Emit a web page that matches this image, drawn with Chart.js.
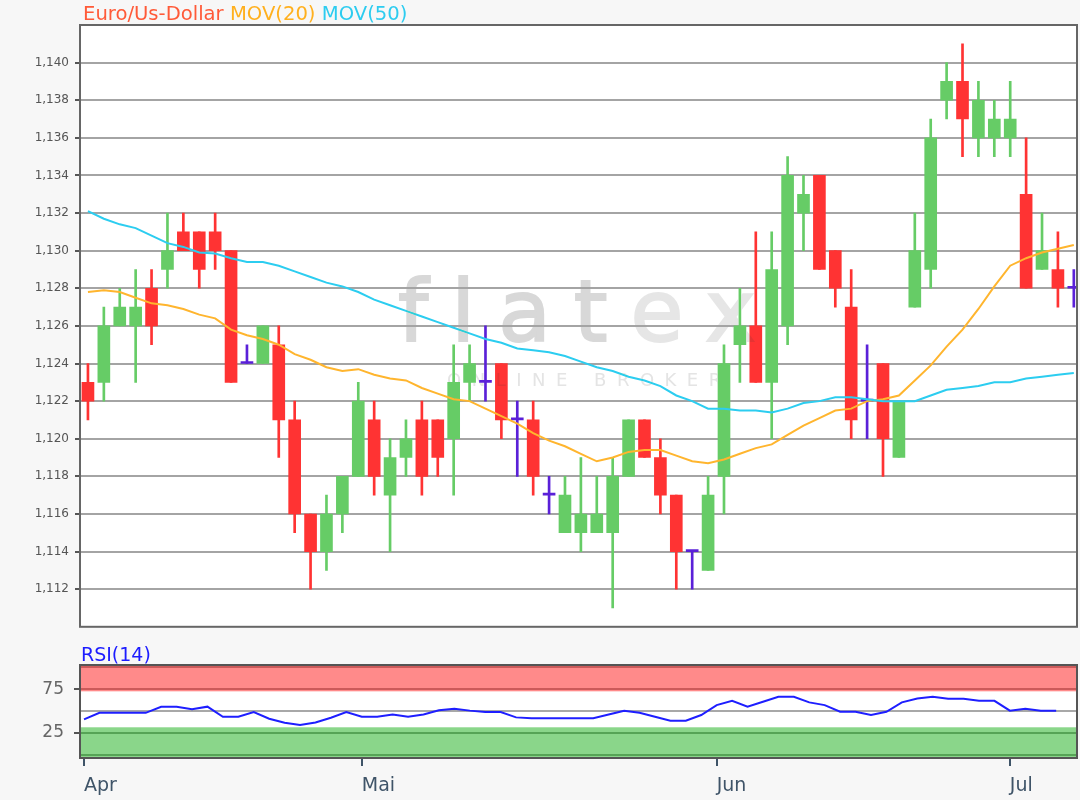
<!DOCTYPE html>
<html>
<head>
<meta charset="utf-8">
<script src="https://cdn.jsdelivr.net/npm/chart.js@4.4.1/dist/chart.umd.min.js"></script>
<style>
  html, body { margin:0; padding:0; width:1080px; height:800px; overflow:hidden; background:#f7f7f7; font-family:"DejaVu Sans", sans-serif; }
  .box { position:absolute; left:0; width:1080px; }
  .t { position:absolute; white-space:nowrap; line-height:1; }
  #wm1, #wm2 { mix-blend-mode:darken; pointer-events:none; }
</style>
</head>
<body>
<div class="box" style="top:0;height:640px"><canvas id="priceChart"></canvas></div>
<div class="box" style="top:640px;height:160px"><canvas id="rsiChart"></canvas></div>

<div class="t" style="left:83px;top:4px;font-size:19.6px">
  <span style="color:#ff5a38">Euro/Us-Dollar</span> <span style="color:#ffb01e">MOV(20)</span> <span style="color:#2cccf0">MOV(50)</span>
</div>
<div class="t" style="left:81px;top:645px;font-size:19px;color:#1c1cff">RSI(14)</div>
<div class="t" id="wm1" style="left:398px;top:268px;font-size:86px;letter-spacing:23px;-webkit-text-stroke:2px currentColor"><span style="color:#d8d8d8">flat</span><span style="color:#e6e6e6">ex</span></div>
<div class="t" id="wm2" style="left:447px;top:371px;font-size:18px;letter-spacing:10.5px;color:#e4e4e4">ONLINE BROKER</div>

<script>
// ---------- data ----------
const CANDLE_OPEN  = [1.123,1.123,1.126,1.126,1.128,1.129,1.131,1.131,1.131,1.130,1.124,1.124,1.125,1.121,1.116,1.114,1.116,1.118,1.121,1.117,1.119,1.121,1.121,1.120,1.123,1.123,1.124,1.121,1.121,1.117,1.115,1.115,1.115,1.115,1.118,1.121,1.119,1.117,1.114,1.113,1.118,1.125,1.126,1.123,1.126,1.132,1.134,1.130,1.127,1.122,1.124,1.119,1.127,1.129,1.138,1.139,1.136,1.136,1.136,1.133,1.129,1.129,1.128];
const CANDLE_HIGH  = [1.124,1.127,1.128,1.129,1.129,1.132,1.132,1.131,1.132,1.130,1.125,1.126,1.126,1.122,1.116,1.117,1.118,1.123,1.122,1.120,1.121,1.122,1.121,1.125,1.125,1.126,1.124,1.122,1.122,1.118,1.118,1.119,1.118,1.119,1.121,1.121,1.120,1.117,1.114,1.118,1.125,1.128,1.131,1.131,1.135,1.134,1.134,1.130,1.129,1.125,1.124,1.122,1.132,1.137,1.140,1.141,1.139,1.138,1.139,1.136,1.132,1.131,1.129];
const CANDLE_LOW   = [1.121,1.122,1.126,1.123,1.125,1.128,1.130,1.128,1.129,1.123,1.124,1.124,1.119,1.115,1.112,1.113,1.115,1.118,1.117,1.114,1.118,1.117,1.118,1.117,1.122,1.122,1.120,1.118,1.117,1.116,1.115,1.114,1.115,1.111,1.118,1.119,1.116,1.112,1.112,1.113,1.116,1.123,1.123,1.120,1.125,1.130,1.129,1.127,1.120,1.120,1.118,1.119,1.127,1.128,1.137,1.135,1.135,1.135,1.135,1.128,1.129,1.127,1.127];
const CANDLE_CLOSE = [1.122,1.126,1.127,1.127,1.126,1.130,1.130,1.129,1.130,1.123,1.124,1.126,1.121,1.116,1.114,1.116,1.118,1.122,1.118,1.119,1.120,1.118,1.119,1.123,1.124,1.123,1.121,1.121,1.118,1.117,1.117,1.116,1.116,1.118,1.121,1.119,1.117,1.114,1.114,1.117,1.124,1.126,1.123,1.129,1.134,1.133,1.129,1.128,1.121,1.122,1.120,1.122,1.130,1.136,1.139,1.137,1.138,1.137,1.137,1.128,1.130,1.128,1.128];

const MOV20 = [1.1278,1.1279,1.1278,1.1275,1.1272,1.1271,1.1269,1.1266,1.1264,1.1258,1.1255,1.1253,1.1250,1.1245,1.1242,1.1238,1.1236,1.1237,1.1234,1.1232,1.1231,1.1227,1.1224,1.1221,1.1220,1.1216,1.1212,1.1208,1.1203,1.1199,1.1196,1.1192,1.1188,1.1190,1.1193,1.1194,1.1194,1.1191,1.1188,1.1187,1.1189,1.1192,1.1195,1.1197,1.1202,1.1207,1.1211,1.1215,1.1216,1.1220,1.1221,1.1223,1.1231,1.1239,1.1249,1.1258,1.1269,1.1281,1.1292,1.1296,1.1299,1.1301,1.1303];
const MOV50 = [1.1321,1.1317,1.1314,1.1312,1.1308,1.1304,1.1302,1.1299,1.12985,1.1296,1.1294,1.1294,1.1292,1.1289,1.1286,1.1283,1.1281,1.1278,1.1274,1.1271,1.1268,1.1265,1.1262,1.1259,1.1256,1.1253,1.1251,1.1248,1.1247,1.1246,1.1244,1.1241,1.1238,1.1236,1.1233,1.1231,1.1228,1.1223,1.1220,1.1216,1.1216,1.1215,1.1215,1.1214,1.1216,1.1219,1.1220,1.1222,1.1222,1.1221,1.1220,1.1220,1.1220,1.1223,1.1226,1.1227,1.1228,1.1230,1.1230,1.1232,1.1233,1.1234,1.1235];

const RSI14 = [40.6,48,48,48,48,54.9,54.9,52,55,43.5,43.5,48.9,41.3,36.7,34,37,42.4,48.9,43.5,43.5,46.2,43.5,46.2,50.8,52.6,50.5,48.9,48.9,42.8,41.7,41.7,41.7,41.7,41.7,46,50.4,48,43.5,39,39,45.5,56.8,61.7,54.9,60.6,66.3,66.3,59.9,56.8,49.2,49.2,45.5,49.2,59.9,64.4,66.3,64,64,61.7,61.7,50.4,52.6,50.4,50.4];

const PRICE_TICKS  = [1.112,1.114,1.116,1.118,1.120,1.122,1.124,1.126,1.128,1.130,1.132,1.134,1.136,1.138,1.140];
const RSI_GRID     = [0,25,50,75,100];
const RSI_LABELED  = [25,75];
const MONTH_TICKS  = [0,18,41,60];
const MONTH_LABELS = ['Apr','Mai','Jun','Jul'];
const RSI_BAND_HIGH = 72.5;
const RSI_BAND_LOW  = 31.5;

// ---------- styles ----------
const GREEN = '#66cc66', RED = '#ff3333', DOJI = '#5a20d8';
const ORANGE = '#ffb52e', CYAN = '#2ccdf0';

Chart.defaults.font.family = '"DejaVu Sans", sans-serif';
Chart.defaults.animation = false;
Chart.defaults.plugins.legend.display = false;
Chart.defaults.plugins.tooltip.enabled = false;

const frame = (border) => ({
  id: 'frame',
  beforeDraw(chart) {
    const a = chart.chartArea, ctx = chart.ctx;
    ctx.save();
    ctx.fillStyle = '#ffffff';
    ctx.fillRect(a.left, a.top, a.right - a.left, a.bottom - a.top);
    if (chart.options.rsiBands) {
      const y = chart.scales.y;
      const yHigh = y.getPixelForValue(RSI_BAND_HIGH);
      const yLow = y.getPixelForValue(RSI_BAND_LOW);
      ctx.fillStyle = '#ff8a8a';
      ctx.fillRect(a.left, a.top, a.right - a.left, yHigh - a.top);
      ctx.fillStyle = '#8ad68a';
      ctx.fillRect(a.left, yLow, a.right - a.left, a.bottom - yLow);
    }
    ctx.restore();
  },
  afterDraw(chart) {
    const a = chart.chartArea, ctx = chart.ctx;
    ctx.save();
    ctx.strokeStyle = border;
    ctx.lineWidth = 2;
    ctx.strokeRect(a.left, a.top, a.right - a.left, a.bottom - a.top);
    ctx.restore();
  }
});

const idx = CANDLE_OPEN.map((_, i) => i);
const candleColor = idx.map(i => CANDLE_CLOSE[i] > CANDLE_OPEN[i] ? GREEN : (CANDLE_CLOSE[i] < CANDLE_OPEN[i] ? RED : DOJI));
const priceLabel = v => v.toFixed(3).replace('.', ',');

new Chart(document.getElementById('priceChart'), {
  type: 'bar',
  data: {
    datasets: [
      { type:'line', label:'MOV(50)', data: idx.map(i => ({x:i, y:MOV50[i]})), borderColor:CYAN, borderWidth:2, pointRadius:0, order:0 },
      { type:'line', label:'MOV(20)', data: idx.map(i => ({x:i, y:MOV20[i]})), borderColor:ORANGE, borderWidth:2, pointRadius:0, order:1 },
      { type:'bar', label:'body', data: idx.map(i => ({x:i, y:[CANDLE_OPEN[i], CANDLE_CLOSE[i]]})), backgroundColor:candleColor, barThickness:12, minBarLength:2, grouped:false, order:2 },
      { type:'bar', label:'wick', data: idx.map(i => ({x:i, y:[CANDLE_LOW[i], CANDLE_HIGH[i]]})), backgroundColor:candleColor, barThickness:2, grouped:false, order:3 }
    ]
  },
  options: {
    responsive: true,
    maintainAspectRatio: false,
    layout: { padding: { left:0, right:3, top:25, bottom:4 } },
    scales: {
      x: { type:'linear', min:-0.5, max:62.2, offset:false, display:false, grid:{ offset:false } },
      y: {
        min: 1.110, max: 1.142,
        afterBuildTicks: s => { s.ticks = PRICE_TICKS.map(v => ({value:v})); },
        afterFit: s => { s.width = 80; },
        border: { display:false },
        grid: { color:'#a4a4a4', lineWidth:2, tickLength:5, tickColor:'#555555' },
        ticks: { callback: v => priceLabel(v), color:'#555555', font:{ size:12 }, padding:6, autoSkip:false }
      }
    }
  },
  plugins: [frame('#666666')]
});

new Chart(document.getElementById('rsiChart'), {
  type: 'line',
  data: {
    datasets: [
      { label:'RSI(14)', data: RSI14.map((v, i) => ({x:i, y:v})), borderColor:'#1e1eff', borderWidth:2, pointRadius:0 }
    ]
  },
  options: {
    responsive: true,
    maintainAspectRatio: false,
    rsiBands: true,
    layout: { padding: { left:0, right:3, top:25, bottom:0 } },
    scales: {
      x: {
        type:'linear', min:-0.26, max:64.35, offset:false,
        afterBuildTicks: s => { s.ticks = MONTH_TICKS.map(v => ({value:v})); },
        afterFit: s => { s.height = 42; },
        border: { display:false },
        grid: { drawOnChartArea:false, tickLength:8, tickColor:'#3f5468', lineWidth:2 },
        ticks: { callback: (v, i) => MONTH_LABELS[i], align:'start', color:'#3f5468', font:{ size:19 }, padding:9, maxRotation:0, autoSkip:false }
      },
      y: {
        min:-3.5, max:102.5,
        afterBuildTicks: s => { s.ticks = RSI_GRID.map(v => ({value:v})); },
        afterFit: s => { s.width = 80; },
        border: { display:false },
        grid: {
          lineWidth: 2,
          tickLength: 6,
          color: c => { const v = c.tick ? c.tick.value : 50; return v >= 75 ? '#cc5a5a' : (v <= 25 ? '#56a456' : '#a8a8a8'); },
          tickColor: c => (c.tick && RSI_LABELED.includes(c.tick.value)) ? '#555555' : 'rgba(0,0,0,0)'
        },
        ticks: { callback: v => RSI_LABELED.includes(v) ? String(v) : '', color:'#666666', font:{ size:17 }, padding:10, autoSkip:false }
      }
    }
  },
  plugins: [frame('#555555')]
});
</script>
</body>
</html>
